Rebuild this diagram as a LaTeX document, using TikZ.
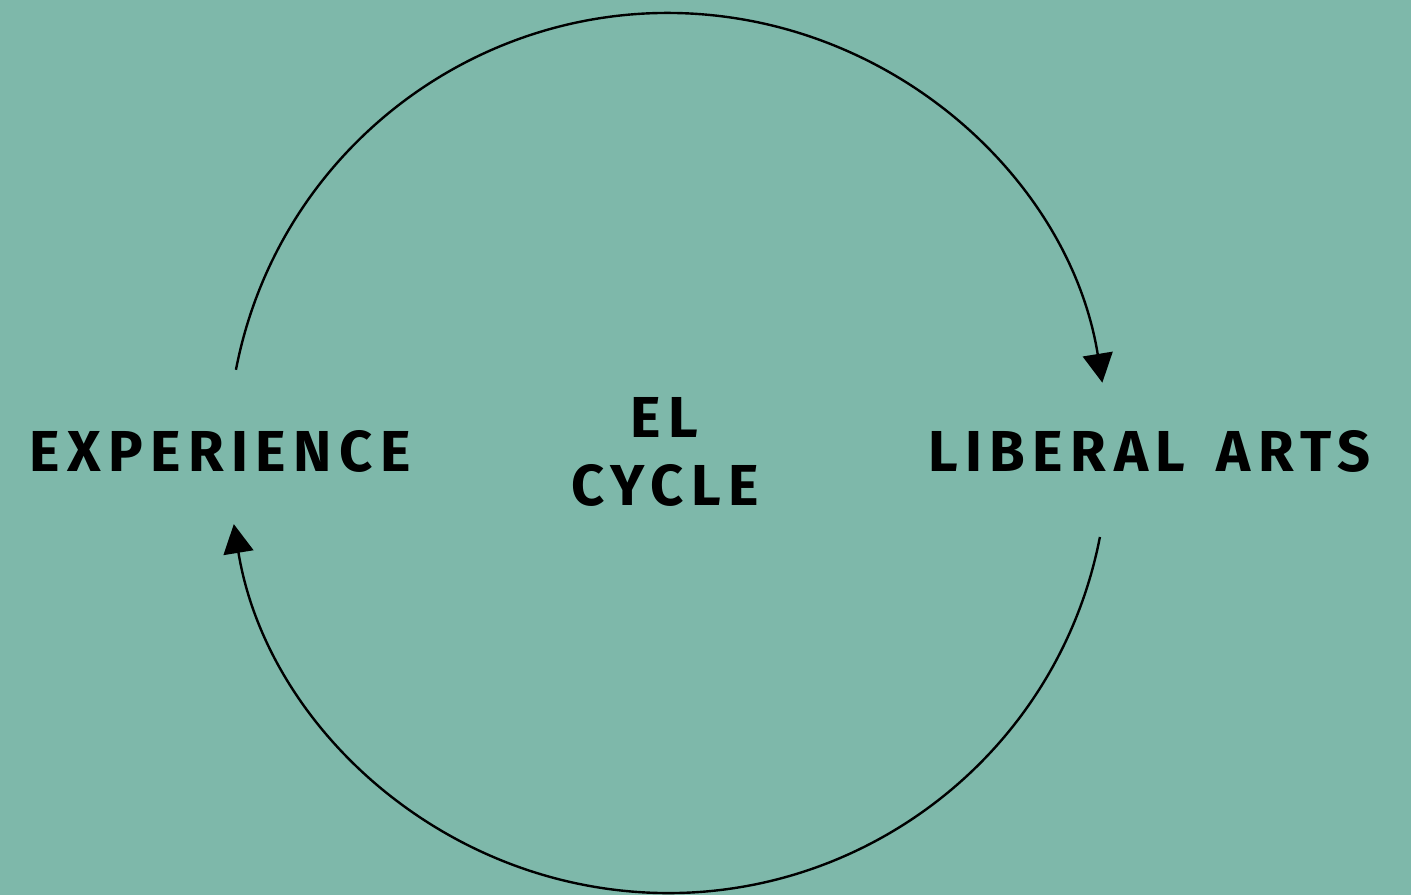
\documentclass[tikz,border=0pt]{standalone}
\usepackage{fontspec}
\setmainfont{Fira Sans}[BoldFont={Fira Sans Bold}]
\newfontfamily\labfont{Fira Sans}[BoldFont={Fira Sans Bold},LetterSpace=13]
\usetikzlibrary{arrows.meta}
\definecolor{bgteal}{HTML}{7EB8AA}
\begin{document}
\begin{tikzpicture}[x=1bp,y=-1bp,
  lab/.style={font=\labfont\bfseries\fontsize{58}{64}\selectfont, inner sep=0pt, text=black},
  cyc/.style={line width=2.4bp, draw=black},
  tip/.style={-{Triangle[length=29bp,width=30bp]}}]
\fill[bgteal] (0,0) rectangle (1411,895);
\useasboundingbox (0,0) rectangle (1411,895);
\coordinate (c) at (668,453);
\node[lab, anchor=base west] (exp) at (29,471) {EXPERIENCE};
\node[lab, anchor=base west] (lib) at (928,471) {LIBERAL\hspace{10bp} ARTS};
\node[lab, anchor=base] (el) at (664,437) {EL};
\node[lab, anchor=base] (cy) at (665,505) {CYCLE};
\draw[cyc, tip] ([shift={(169.1:440 and -440)}]c) arc[start angle=169.1, end angle=9.2, x radius=440, y radius=-440];
\draw[cyc, tip] ([shift={(-11:440 and -440)}]c) arc[start angle=-11, end angle=-170.7, x radius=440, y radius=-440];
\end{tikzpicture}
\end{document}
